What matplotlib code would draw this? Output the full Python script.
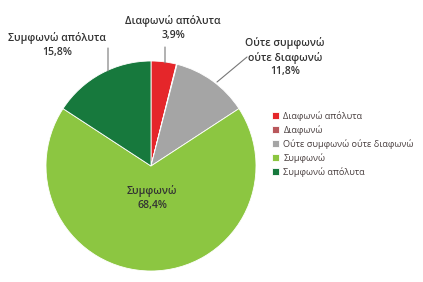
import numpy as np
import matplotlib.pyplot as plt

# δεδομένα
categories = ['Διαφωνώ απόλυτα', 'Διαφωνώ', 'Ούτε συμφωνώ ούτε διαφωνώ', 'Συμφωνώ', 'Συμφωνώ απόλυτα']
values = [3.9, 0.1, 11.8, 68.4, 15.8]
value_labels = ['3,9%', '', '11,8%', '68,4%', '15,8%']
colors = ['#e5262a', '#b9585c', '#a5a5a5', '#8cc641', '#17793d']

W, H = 423, 282
fig = plt.figure(figsize=(W / 100, H / 100), dpi=100)
ax = fig.add_axes([0, 0, 1, 1])

cx, cy, r = 151, H - 166, 105
wedges, _ = ax.pie(values, colors=colors, startangle=90, counterclock=False,
                   center=(cx, cy), radius=r, frame=True,
                   wedgeprops=dict(edgecolor='white', linewidth=0.6))
ax.set_xlim(0, W)
ax.set_ylim(0, H)
ax.set_aspect('equal')
ax.axis('off')

txt = '#333333'
fs = 7.6
font = dict(family=['Open Sans', 'DejaVu Sans'], weight='semibold')
line = dict(arrowstyle='-', color='#777777', lw=0.8, shrinkA=0, shrinkB=0)

# ετικέτες
ax.text(173, H - 28, categories[0] + '\n' + value_labels[0], ha='center', va='center',
        fontsize=fs, color=txt, linespacing=1.3, **font)
ax.text(285, H - 57, 'Ούτε συμφωνώ\nούτε διαφωνώ\n' + value_labels[2], ha='center', va='center',
        fontsize=fs, color=txt, linespacing=1.3, **font)
ax.text(57, H - 45, categories[4] + '\n' + value_labels[4], ha='center', va='center',
        fontsize=fs, color=txt, linespacing=1.3, **font)
ax.text(152, H - 198, categories[3] + '\n' + value_labels[3], ha='center', va='center',
        fontsize=fs, color=txt, linespacing=1.3, **font)

# γραμμές οδηγοί
ax.annotate('', xy=(165, H - 63), xytext=(165, H - 47), arrowprops=line)
ax.annotate('', xy=(217, H - 82), xytext=(247, H - 57), arrowprops=line)
ax.annotate('', xy=(108, H - 71), xytext=(108, H - 48), arrowprops=line)

ax.legend(wedges, categories, loc='upper left', bbox_to_anchor=(272 / W, 1 - 111 / H),
          frameon=False, prop=dict(family=['Open Sans', 'DejaVu Sans'], size=6.6),
          handlelength=0.8, handleheight=0.8,
          handletextpad=0.45, labelspacing=0.45, borderaxespad=0, borderpad=0,
          labelcolor='#4a4040')

fig.savefig('out.png', dpi=100)
